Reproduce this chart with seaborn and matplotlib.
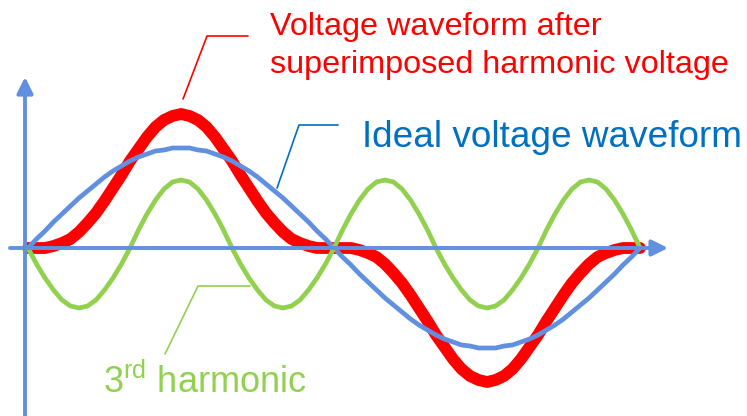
import numpy as np
import pandas as pd
import seaborn as sns
from matplotlib import pyplot as plt

# phase angle in degrees, one sample every 5 degrees over one period
angle = list(range(0, 361, 5))

# ideal (fundamental) voltage
ideal = [0, .09, .17, .26, .34, .42, .50, .57, .64, .71, .77, .82, .87, .91, .94, .97, .98, 1.00,
         1.00, 1.00, .98, .97, .94, .91, .87, .82, .77, .71, .64, .57, .50, .42, .34, .26, .17, .09,
         0, -.09, -.17, -.26, -.34, -.42, -.50, -.57, -.64, -.71, -.77, -.82, -.87, -.91, -.94, -.97, -.98, -1.00,
         -1.00, -1.00, -.98, -.97, -.94, -.91, -.87, -.82, -.77, -.71, -.64, -.57, -.50, -.42, -.34, -.26, -.17, -.09,
         0]

# 3rd harmonic
third = [0, -.16, -.30, -.42, -.52, -.58, -.60, -.58, -.52, -.42, -.30, -.16,
         0, .18, .34, .48, .59, .66, .68, .66, .59, .48, .34, .18,
         0, -.16, -.30, -.42, -.52, -.58, -.60, -.58, -.52, -.42, -.30, -.16,
         0, .18, .34, .48, .59, .66, .68, .66, .59, .48, .34, .18,
         0, -.16, -.30, -.42, -.52, -.58, -.60, -.58, -.52, -.42, -.30, -.16,
         0, .18, .34, .48, .59, .66, .68, .66, .59, .48, .34, .18,
         0]

# distorted waveform
distorted = [0, 0, 0, .02, .05, .09, .16, .25, .35, .47, .60, .73, .87, .99, 1.11, 1.21, 1.28, 1.32,
             1.34, 1.32, 1.28, 1.21, 1.11, .99, .87, .73, .60, .47, .35, .25, .16, .09, .05, .02, 0, 0,
             0, 0, 0, -.02, -.05, -.09, -.16, -.25, -.35, -.47, -.60, -.73, -.87, -.99, -1.11, -1.21, -1.28, -1.32,
             -1.34, -1.32, -1.28, -1.21, -1.11, -.99, -.87, -.73, -.60, -.47, -.35, -.25, -.16, -.09, -.05, -.02, 0, 0,
             0]

RED = "#FF0000"
GREEN = "#92D050"
BLUE_LINE = "#6290E0"
BLUE_TEXT = "#0070C0"

sns.set_style("white")
plt.rcParams['font.family'] = ['Liberation Sans', 'DejaVu Sans']
plt.rcParams['mathtext.fontset'] = 'custom'
plt.rcParams['mathtext.rm'] = 'Liberation Sans'

fig = plt.figure(figsize=(7.47, 4.16), dpi=100)
ax = fig.add_axes([0, 0, 1, 1])

# coordinate axes with arrow heads
arrow = dict(arrowstyle='-|>', color=BLUE_LINE, lw=2.8, mutation_scale=24, shrinkA=0, shrinkB=0)
ax.annotate("", xy=(376.5, 0), xytext=(-10.6, 0), arrowprops=arrow)
ax.annotate("", xy=(-1.76, 1.71), xytext=(-1.76, -1.75), arrowprops=arrow)

df = pd.DataFrame({'angle': angle, 'ideal': ideal, 'third': third, 'distorted': distorted})
sns.lineplot(data=df, x='angle', y='distorted', color=RED, linewidth=8.5, ax=ax,
             solid_capstyle='round', legend=False)
sns.lineplot(data=df, x='angle', y='ideal', color=BLUE_LINE, linewidth=3.4, ax=ax,
             solid_capstyle='round', legend=False)
sns.lineplot(data=df, x='angle', y='third', color=GREEN, linewidth=3.4, ax=ax,
             solid_capstyle='round', legend=False)
ax.set_xlim(-16.47, 422.94)
ax.set_ylim(-1.68, 2.48)
ax.axis('off')

# leader lines + labels
ax.plot([91.2, 105.3, 129.4], [1.49, 2.12, 2.12], color=RED, lw=1.2)
ax.text(142.4, 2.13, "Voltage waveform after", color=RED, fontsize=23.3, va='baseline')
ax.text(142.4, 1.75, "superimposed harmonic voltage", color=RED, fontsize=23.3, va='baseline')

ax.plot([146.5, 159.4, 182.4], [0.60, 1.23, 1.23], color=BLUE_TEXT, lw=1.2)
ax.text(196.5, 1.01, "Ideal voltage waveform", color=BLUE_TEXT, fontsize=26.6, va='baseline')

ax.plot([80.6, 100, 130.6], [-1.06, -0.38, -0.38], color=GREEN, lw=1.2)
ax.text(44.1, -1.45, r"3$^{\mathrm{rd}}$ harmonic", color=GREEN, fontsize=26, va='baseline')

plt.savefig("out.png", dpi=100)
